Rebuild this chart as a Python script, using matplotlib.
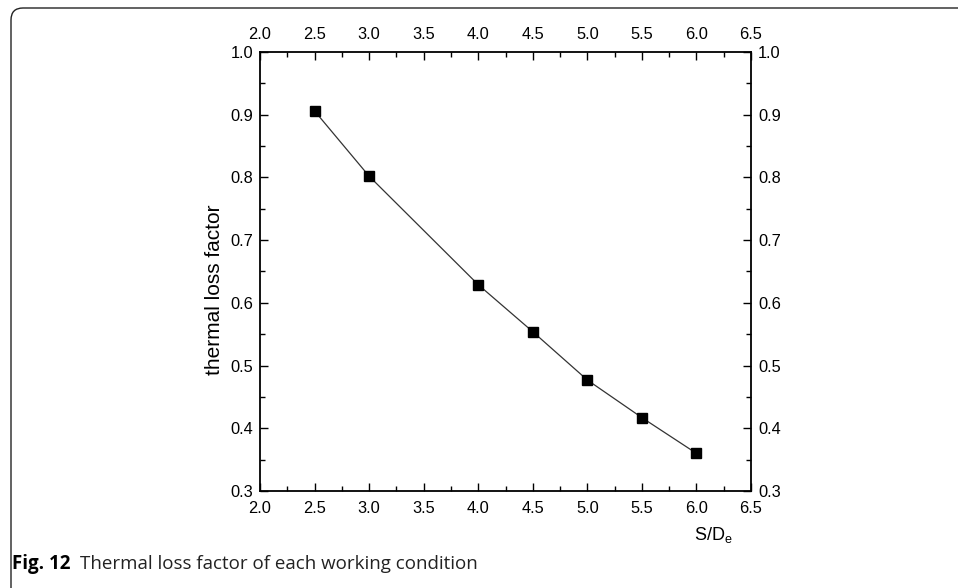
import matplotlib
matplotlib.use("Agg")
import matplotlib.pyplot as plt
from matplotlib.ticker import MultipleLocator, FormatStrFormatter
from matplotlib.path import Path
from matplotlib.patches import PathPatch

ratio = [2.5, 3.0, 4.0, 4.5, 5.0, 5.5, 6.0]
loss_factor = [0.906, 0.802, 0.629, 0.554, 0.477, 0.417, 0.360]
xlim = (2.0, 6.5)
ylim = (0.3, 1.0)
ylabel = "thermal loss factor"
xlabel = r"S/D$_\mathregular{e}$"
caption_bold = "Fig. 12"
caption_text = "Thermal loss factor of each working condition"

W, H = 958, 588
fig = plt.figure(figsize=(W / 100, H / 100), dpi=100)
fig.patch.set_facecolor("white")

# rounded frame (left and top border)
r = 12
verts = [(11, H + 2), (11, 8 + r), (11, 8), (11 + r, 8), (W + 5, 8)]
codes = [Path.MOVETO, Path.LINETO, Path.CURVE3, Path.CURVE3, Path.LINETO]
verts = [(x / W, 1 - y / H) for x, y in verts]
frame = PathPatch(Path(verts, codes), transform=fig.transFigure, fill=False,
                  edgecolor="#222222", linewidth=1.0)
fig.patches.append(frame)

ax = fig.add_axes([260 / W, 1 - 491 / H, (751 - 260) / W, (491 - 52) / H])
ax.plot(ratio, loss_factor, color="#333333", linewidth=0.9, marker="s",
        markersize=6.5, markerfacecolor="black", markeredgecolor="black")
ax.set_xlim(*xlim)
ax.set_ylim(*ylim)

font = "Liberation Sans"
ax.xaxis.set_major_locator(MultipleLocator(0.5))
ax.xaxis.set_minor_locator(MultipleLocator(0.25))
ax.yaxis.set_major_locator(MultipleLocator(0.1))
ax.yaxis.set_minor_locator(MultipleLocator(0.05))
ax.xaxis.set_major_formatter(FormatStrFormatter("%.1f"))
ax.yaxis.set_major_formatter(FormatStrFormatter("%.1f"))
ax.tick_params(which="both", direction="in", top=True, right=True,
               labeltop=True, labelright=True, width=1.0, color="black")
ax.tick_params(which="major", length=6, labelsize=11.8)
ax.tick_params(which="minor", length=3.5)
ax.tick_params(axis="x", which="major", pad=7.5)
ax.tick_params(axis="y", which="major", pad=5)
for sp in ax.spines.values():
    sp.set_linewidth(1.3)

fig.canvas.draw()
for t in ax.xaxis.get_major_ticks() + ax.yaxis.get_major_ticks():
    t.label1.set_fontfamily(font)
    t.label2.set_fontfamily(font)

fig.text(215 / W, 1 - 290 / H, ylabel, family=font, fontsize=15,
         rotation=90, ha="center", va="center")
fig.text(713 / W, 1 - 535 / H, xlabel, family=font, fontsize=13,
         ha="center", va="center")

t1 = fig.text(12 / W, 1 - 564 / H, caption_bold, family="Open Sans",
              fontweight="bold", fontsize=13.5, ha="left", va="center")
fig.canvas.draw()
bb = t1.get_window_extent()
fig.text((bb.x1 + 9) / W, 1 - 564 / H, caption_text, family="Open Sans",
         fontsize=13.5, ha="left", va="center", color="#222222")

fig.savefig("out.png", dpi=100)
